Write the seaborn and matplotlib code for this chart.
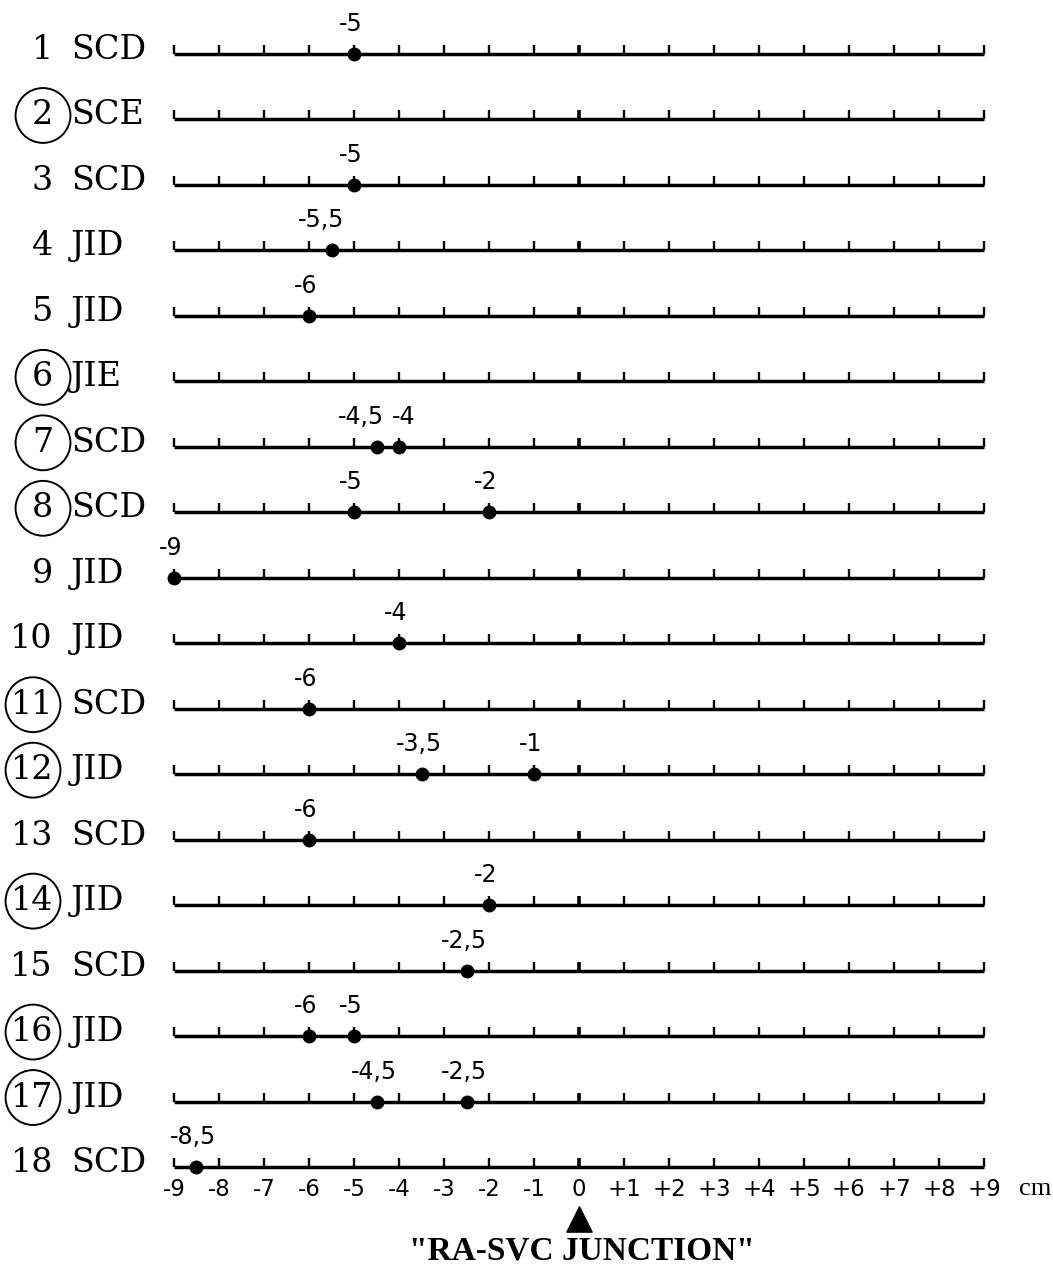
import numpy as np
import pandas as pd
import matplotlib
matplotlib.use("Agg")
import matplotlib.pyplot as plt
import seaborn as sns

# ---------------- data ----------------
case_numbers = list(range(1, 19))
case_sites = ["SCD", "SCE", "SCD", "JID", "JID", "JIE", "SCD", "SCD", "JID",
              "JID", "SCD", "JID", "SCD", "JID", "SCD", "JID", "JID", "SCD"]
circled_cases = [2, 6, 7, 8, 11, 12, 14, 16, 17]
tip_positions = [[-5], [], [-5], [-5.5], [-6], [], [-4.5, -4], [-5, -2], [-9],
                 [-4], [-6], [-3.5, -1], [-6], [-2], [-2.5], [-6, -5],
                 [-4.5, -2.5], [-8.5]]
scale_ticks = list(range(-9, 10))
scale_tick_labels = ["-9", "-8", "-7", "-6", "-5", "-4", "-3", "-2", "-1", "0",
                     "+1", "+2", "+3", "+4", "+5", "+6", "+7", "+8", "+9"]
unit_label = "cm"
junction_label = '"RA-SVC JUNCTION"'

# label horizontal nudges (pixels), style only
label_nudge = {(4, -5.5): -10, (7, -4.5): -16, (7, -4): 5}
default_nudge = -3

rows = []
for c, vals in zip(case_numbers, tip_positions):
    for v in vals:
        rows.append({"case": c, "pos": v})
df = pd.DataFrame(rows)

# ---------------- layout ----------------
sns.set_style("white")
plt.rcParams["text.color"] = "black"
W, H = 1053, 1277
fig = plt.figure(figsize=(W / 100, H / 100), dpi=100)
x_left, x_right = 174, 984
y_top, y_bot = 54, 1167
ax = fig.add_axes([x_left / W, (H - y_bot) / H, (x_right - x_left) / W, (y_bot - y_top) / H])
ax.set_xlim(-9, 9)
ax.set_ylim(18, 1)
ax.axis("off")

px_x = (x_right - x_left) / 18.0
px_y = (y_bot - y_top) / 17.0
def dx(px):
    return (px - 579) / px_x

serif = ["DejaVu Serif"]
sans = ["DejaVu Sans"]

# base lines and ticks
ax.hlines(case_numbers, -9, 9, color="black", linewidth=2.5, clip_on=False)
tick_h = 9 / px_y
for r in case_numbers:
    for t in scale_ticks:
        ax.vlines(t, r - tick_h, r, color="black",
                  linewidth=2.6 if t == 0 else 1.7, clip_on=False)

# points
sns.scatterplot(data=df, x="pos", y="case", ax=ax, color="black", s=100,
                edgecolor="black", linewidth=0, clip_on=False, legend=False, zorder=5)

# point labels
for _, rr in df.iterrows():
    v, c = rr["pos"], int(rr["case"])
    txt = f"{v:g}".replace(".", ",")
    nud = label_nudge.get((c, v), default_nudge)
    ax.annotate(txt, (v, c), xytext=(nud * 0.72, 30 * 0.72), textcoords="offset points",
                ha="center", va="center", fontsize=17, family=sans, color="black",
                annotation_clip=False)

# row labels
circ_x, circ_y = [], []
for c, site in zip(case_numbers, case_sites):
    ax.text(dx(53), c + 5 / px_y, str(c), ha="right", va="baseline",
            fontsize=24, family=serif, color="black")
    ax.text(dx(71), c + 5 / px_y, site, ha="left", va="baseline",
            fontsize=24, family=serif, color="black")
    if c in circled_cases:
        nd = len(str(c))
        circ_x.append(dx(53 - nd * 10))
        circ_y.append(c - 4 / px_y)
ax.scatter(circ_x, circ_y, s=1560, facecolors="none", edgecolors="black",
           linewidths=1.4, clip_on=False, zorder=4)

# scale labels
ty = 18 + (1189 - y_bot) / px_y
for t, lab in zip(scale_ticks, scale_tick_labels):
    ax.text(t, ty, lab, ha="center", va="center", fontsize=16.5, family=sans, color="black")
ax.text(dx(1035), ty, unit_label, ha="center", va="center", fontsize=19,
        family=["Liberation Serif"], color="black")

# junction marker and label
ax.scatter([0], [18 + (1219 - y_bot) / px_y], marker="^", s=330, color="black",
           clip_on=False, zorder=5)
ax.text(dx(582), 18 + (1251 - y_bot) / px_y, junction_label, ha="center", va="center",
        fontsize=24, fontweight="bold", family=["Liberation Serif"], color="black")

fig.savefig("out.png", dpi=100)
